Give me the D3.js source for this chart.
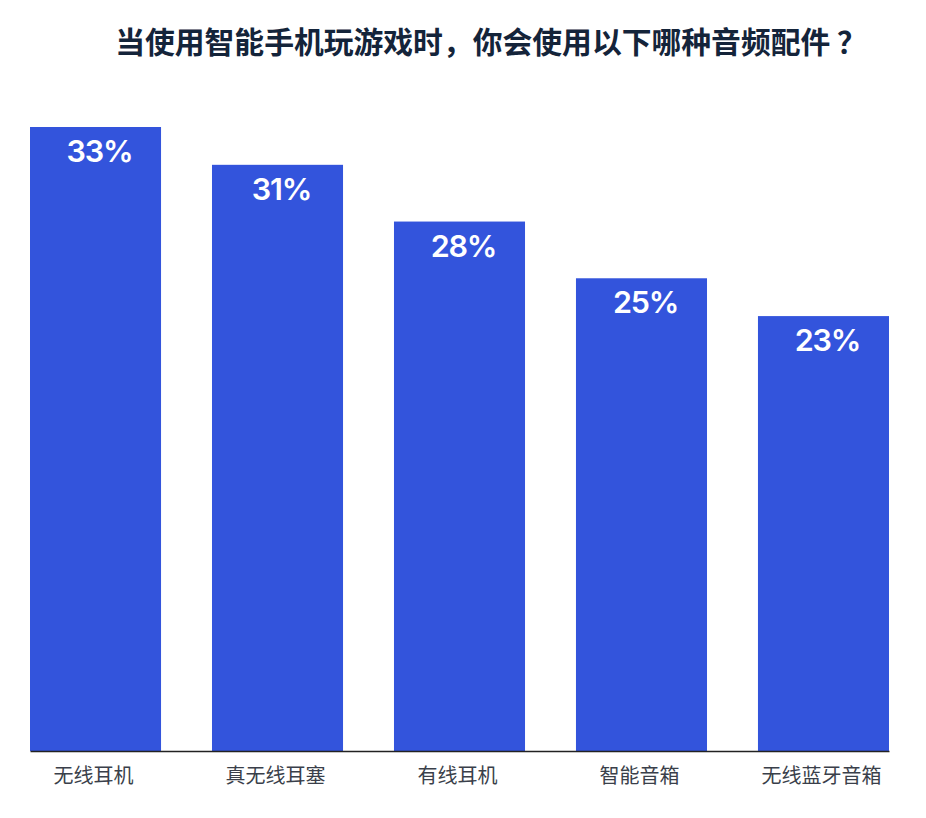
<!DOCTYPE html>
<html><head><meta charset="utf-8">
<script src="https://cdn.jsdelivr.net/npm/d3@7"></script>
<style>body{margin:0;background:#fff}svg{display:block}</style>
</head><body>
<script>
const categories = ["无线耳机","真无线耳塞","有线耳机","智能音箱","无线蓝牙音箱"];
const values = [33,31,28,25,23];
const title = "当使用智能手机玩游戏时，你会使用以下哪种音频配件 ？";

const W = 926, H = 818;
const svg = d3.select("body").append("svg").attr("width", W).attr("height", H);

const x = d3.scaleBand().domain(categories).range([30, 889]).paddingInner(0.28).paddingOuter(0);
const y = d3.scaleLinear().domain([0, 33]).range([751, 127]);

svg.append("text").attr("x", 491).attr("y", 53).attr("text-anchor", "middle")
  .attr("font-family", "'Noto Sans CJK SC', sans-serif").attr("font-weight", 700)
  .attr("font-size", 29.8).attr("fill", "#14243a").text(title);

svg.selectAll("rect.bar").data(values).enter().append("rect").attr("class","bar")
  .attr("x", (d,i) => x(categories[i])).attr("width", x.bandwidth())
  .attr("y", d => y(d)).attr("height", d => y(0) - y(d)).attr("fill", "#3354dc");

svg.selectAll("text.val").data(values).enter().append("text").attr("class","val")
  .attr("x", (d,i) => x(categories[i]) + x.bandwidth()/2 + 4).attr("y", d => y(d) + 35)
  .attr("text-anchor", "middle").attr("font-family", "Inter, 'Liberation Sans', sans-serif")
  .attr("font-weight", 600).attr("font-size", 30.5).attr("letter-spacing", -1.2).attr("fill", "#fff")
  .text(d => d + "%");

const axis = d3.axisBottom(x).tickSize(0).tickPadding(0);
const g = svg.append("g").attr("transform", "translate(0,751)").call(axis);
g.select(".domain").attr("stroke", "#222").attr("stroke-width", 1.5);
g.selectAll("text").attr("font-family", "'Noto Sans CJK SC', sans-serif")
  .attr("font-size", 20).attr("fill", "#3a3f4a").attr("dy", 0).attr("y", 32)
  .attr("dx", -2);
</script>
</body></html>
